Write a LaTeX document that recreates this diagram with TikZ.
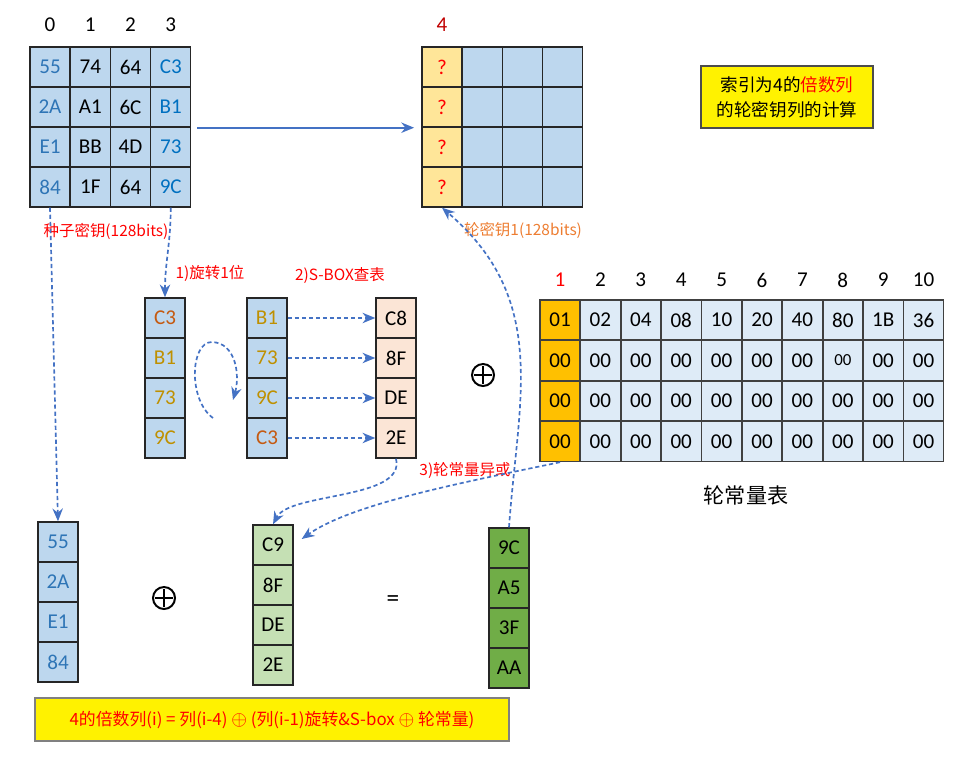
\documentclass[tikz,border=0pt]{standalone}
\usepackage{fontspec}
\setmainfont{Carlito}
\newfontfamily\cjk{Noto Sans CJK SC}
\usetikzlibrary{arrows.meta}
\definecolor{keyCol}{RGB}{189,215,238}
\definecolor{qCol}{RGB}{255,230,153}
\definecolor{rconCol}{RGB}{222,235,247}
\definecolor{goldCol}{RGB}{255,192,0}
\definecolor{sboxCol}{RGB}{251,229,214}
\definecolor{grnLt}{RGB}{197,224,180}
\definecolor{grnDk}{RGB}{112,173,71}
\definecolor{txtA}{RGB}{46,117,182}
\definecolor{txtB}{RGB}{0,112,192}
\definecolor{orgT}{RGB}{197,90,17}
\definecolor{gldT}{RGB}{191,144,0}
\definecolor{redCol}{RGB}{255,0,0}
\definecolor{drkRed}{RGB}{192,0,0}
\definecolor{keyLab}{RGB}{237,125,49}
\definecolor{arrCol}{RGB}{68,114,196}
\tikzset{
  cell/.style={draw=black!85,line width=1pt,minimum size=1cm,inner sep=0pt,
               font=\fontsize{15}{17}\selectfont},
  seed/.style={cell,fill=keyCol},
  qbox/.style={cell,fill=qCol,text=redCol},
  rc/.style={cell,draw=black!75,fill=rconCol},
  rc0/.style={cell,draw=black!75,fill=goldCol},
  sbx/.style={cell,fill=sboxCol},
  gl/.style={cell,fill=grnLt},
  gd/.style={cell,fill=grnDk},
  hd/.style={font=\fontsize{15}{17}\selectfont},
  xorsym/.style={circle,draw,line width=1.4pt,minimum size=0.55cm,inner sep=0pt,
    path picture={\draw[line width=1.4pt]
      ([yshift=-1.5pt]path picture bounding box.north) -- ([yshift=1.5pt]path picture bounding box.south)
      ([xshift=1.5pt]path picture bounding box.west) -- ([xshift=-1.5pt]path picture bounding box.east);}},
  flow/.style={-{Stealth[length=3.2mm,width=2.6mm]},line width=1.3pt,draw=arrCol},
  dflow/.style={flow,line width=1.2pt,dash pattern=on 3pt off 2pt},
  lab/.style={font=\cjk\fontsize{11}{13}\selectfont,text=redCol},
  note/.style={draw=black!70,line width=1pt,fill=yellow,align=center},
}
\newcommand{\xo}{{\fontsize{15}{14}\selectfont$\oplus$}}
\begin{document}
\begin{tikzpicture}[x=0.025cm,y=-0.025cm]
    \useasboundingbox (0,0) rectangle (967,763);
    % seed key (column headers on top)
    \foreach \c in {0,...,3} \node[hd] (sh-\c) at (50+40.25*\c,25) {\c};
    \foreach \a/\b/\c/\d [count=\r from 0] in {55/74/64/C3,2A/A1/6C/B1,E1/BB/4D/73,84/1F/64/9C} {
      \node[seed,text=txtA] (s-\r-0) at (50,67+40*\r) {\a};
      \node[seed] (s-\r-1) at (90.25,67+40*\r) {\b};
      \node[seed] (s-\r-2) at (130.5,67+40*\r) {\c};
      \node[seed,text=txtB] (s-\r-3) at (170.75,67+40*\r) {\d};
    }
    \node[lab] (seedlab) at (106,231) {种子密钥(128bits)};
    % round key 1: column 4 still unknown
    \node[hd,text=drkRed] (kh) at (442,25) {4};
    \foreach \r in {0,...,3} {
      \node[qbox] (k-\r-0) at (442,67+40*\r) {?};
      \foreach \c in {1,2,3} \node[seed] (k-\r-\c) at (442+40.25*\c,67+40*\r) {};
    }
    \node[lab,text=keyLab] (keylab) at (523,230) {轮密钥1(128bits)};
    \draw[flow] ([xshift=0.15cm]s-1-3.south east) -- ([xshift=-0.18cm]k-1-0.south west);
    \node[note,minimum width=4.3cm,minimum height=1.55cm,font=\cjk\fontsize{12.5}{17.5}\selectfont] (title) at (787,97)
      {索引为4的\textcolor{redCol}{倍数列}\\的轮密钥列的计算};
    % 1) rotate, 2) s-box lookup
    \foreach \v/\vc/\w/\wc/\o [count=\r from 0] in {C3/orgT/B1/gldT/C8,B1/gldT/73/gldT/8F,73/gldT/9C/gldT/DE,9C/gldT/C3/orgT/2E} {
      \node[seed,text=\vc] (r-\r) at (165,318+40*\r) {\v};
      \node[seed,text=\wc] (t-\r) at (267,318+40*\r) {\w};
      \node[sbx] (o-\r) at (396,318+40*\r) {\o};
      \draw[dflow] (t-\r.east) -- (o-\r.west);
    }
    \node[lab] (rotlab) at (210,273) {1)旋转1位};
    \node[lab] (sboxlab) at (340,276) {2)S-BOX查表};
    \draw[dflow] (s-3-3.south) to[out=-90,in=90] (r-0.north);
    \draw[dflow] (213,418) .. controls (188,400) and (190,342) .. (212,342)
                 .. controls (236,343) and (240,375) .. (233,400);
    % round constants
    \node[hd,text=redCol] (ch-1) at (560,280) {1};
    \foreach \n in {2,...,10} \node[hd] (ch-\n) at (560+40.4*\n-40.4,280) {\n};
    \foreach \v [count=\r from 0] in {01,00,00,00} \node[rc0] (c-\r-0) at (560,320+40.5*\r) {\v};
    \foreach \v [count=\n] in {02,04,08,10,20,40,80,1B,36} \node[rc] (c-0-\n) at (560+40.4*\n,320) {\v};
    \foreach \r in {1,2,3}
      \foreach \n in {1,...,9}
        \node[rc] (c-\r-\n) at (560+40.4*\n,320+40.5*\r) {\ifnum\r\n=17 \fontsize{12}{13}\selectfont\fi 00};
    \node[font=\cjk\fontsize{15}{17}\selectfont] (rconlab) at (746,495) {轮常量表};
    \node[xorsym] (xor1) at (483,375) {};
    % column 4 = column 0 xor (rotated, s-boxed, xored column 3)
    \foreach \a/\g/\e [count=\r from 0] in {55/C9/9C,2A/8F/A5,E1/DE/3F,84/2E/AA} {
      \node[seed,text=txtA] (b-\r) at (58,542+40*\r) {\a};
      \node[gl] (g-\r) at (273,545+40*\r) {\g};
      \node[gd] (e-\r) at (509,548+40*\r) {\e};
    }
    \node[xorsym] (xor2) at (164,598) {};
    \node[font=\fontsize{18}{18}\selectfont] (eq) at (393,601) {=};
    \node[lab] (rconxor) at (465,470) {3)轮常量异或};
    \draw[dflow] (s-3-0.south) -- (b-0.north);
    \draw[dflow] (o-3.south) .. controls (406,500) and (290,492) .. (g-0.north);
    \draw[dflow] (c-3-0.south) .. controls (450,485) and (350,505) .. ([xshift=0.2cm,yshift=0.15cm]g-0.east);
    \draw[dflow] (e-0.north) .. controls (518,400) and (550,300) .. (k-3-0.south);
    \node[note,draw=black!50,minimum width=11.85cm,minimum height=1.075cm,text=redCol,
          font=\cjk\fontsize{12}{14}\selectfont] (formula) at (272,719.5)
      {4的倍数列(i) = 列(i-4) \xo{} (列(i-1)旋转\&S-box \xo{} 轮常量)};
\end{tikzpicture}
\end{document}
